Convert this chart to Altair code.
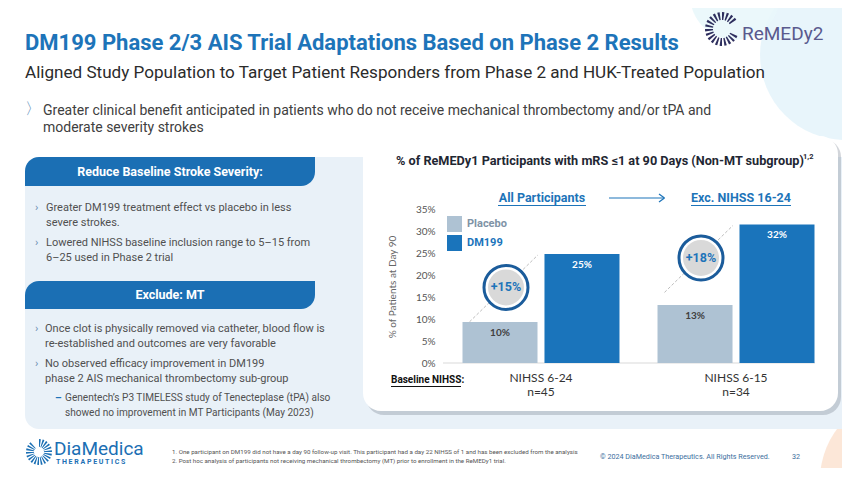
import altair as alt
import pandas as pd

# ---------------- data ----------------
groups = ["NIHSS 6-24", "NIHSS 6-15"]
group_n = ["n=45", "n=34"]
series = ["Placebo", "DM199"]
placebo_vals = [9.3, 13.2]
dm199_vals = [24.8, 31.5]
placebo_labels = ["10%", "13%"]
dm199_labels = ["25%", "32%"]
diff_labels = ["+15%", "+18%"]
y_ticks = [0, 5, 10, 15, 20, 25, 30, 35]
series_colors = ["#AEC2D3", "#1A74BB"]

# ---------------- layout constants ----------------
OX, OY = 443, 209          # page position of the plot origin
W, H = 391, 154            # plot area
BLUE = "#1D74B9"
HEAD = "#1B6FB4"
FONT = "Roboto"
LFONT = "Lato"

one = pd.DataFrame({"a": [0]})


def X(px):
    return alt.value(px - OX)


def Y(py):
    return alt.value(py - OY)


def txt(s, px, py, size, color, weight="normal", align="left", baseline="middle", font=FONT, angle=None):
    kw = dict(text=s, align=align, baseline=baseline, fontSize=size, color=color,
              fontWeight=weight, font=font)
    if angle is not None:
        kw["angle"] = angle
    return alt.Chart(one).mark_text(**kw).encode(x=X(px), y=Y(py))


def rect(x1, y1, x2, y2, fill, **kw):
    return alt.Chart(one).mark_rect(fill=fill, **kw).encode(x=X(x1), x2=X(x2), y=Y(y1), y2=Y(y2))


def rule(x1, y1, x2, y2, color, width=1.0, **kw):
    return alt.Chart(one).mark_rule(color=color, strokeWidth=width, **kw).encode(
        x=X(x1), x2=X(x2), y=Y(y1), y2=Y(y2))


def blob(px, py, r, fill, opacity=1.0):
    return alt.Chart(one).mark_point(filled=True, shape="circle", size=(2 * r) ** 2,
                                     fill=fill, opacity=opacity, strokeWidth=0).encode(x=X(px), y=Y(py))


def burst(px, py, r_in, r_out, color, n, gap=None):
    rows = []
    for i in range(n):
        on = (i % 2 == 0) and not (gap is not None and gap[0] <= i < gap[1])
        rows.append({"v": 1, "on": 1 if on else 0})
    df = pd.DataFrame(rows)
    return alt.Chart(df).mark_arc(innerRadius=r_in, outerRadius=r_out, strokeWidth=0).encode(
        theta=alt.Theta("v:Q", stack=True),
        fill=alt.condition("datum.on == 1", alt.value(color), alt.value("rgba(0,0,0,0)")),
        x=X(px), y=Y(py))


layers = []

# ---------------- background decoration ----------------
layers += [
    blob(845, 55, 85, "#E2F3FA", 0.8),
    blob(735, -5, 45, "#E9F7FB", 0.9),
    blob(905, 480, 85, "#FCE4D4", 0.9),
]

# ---------------- slide header ----------------
layers += [
    txt("DM199 Phase 2/3 AIS Trial Adaptations Based on Phase 2 Results", 25, 49.5, 22, BLUE, "bold", baseline="alphabetic"),
    txt("Aligned Study Population to Target Patient Responders from Phase 2 and HUK-Treated Population", 25, 77.5, 17.1, "#2B2B2B", baseline="alphabetic"),
    txt("〉", 25, 109, 16, "#5B8DB8"),
    txt("Greater clinical benefit anticipated in patients who do not receive mechanical thrombectomy and/or tPA and", 43, 115, 14, "#404040", baseline="alphabetic"),
    txt("moderate severity strokes", 43, 131.5, 14, "#404040", baseline="alphabetic"),
    burst(722, 29, 9, 17, "#2E2F5E", 44, gap=(8, 14)),
    txt("ReMEDy2", 742, 39.5, 19, "#5A5A8E", baseline="alphabetic"),
]

# ---------------- left panel ----------------
layers += [
    rect(25, 157, 860, 429, "#E9F1F8", cornerRadius=14),
    rect(25, 157, 315, 186, HEAD, cornerRadiusTopLeft=14, cornerRadiusBottomRight=14),
    txt("Reduce Baseline Stroke Severity:", 170, 171.5, 12.5, "white", "bold", align="center"),
    txt("›", 35, 208, 11, "#6A8DB0"),
    txt("Greater DM199 treatment effect vs placebo in less", 46, 208, 11, "#505050"),
    txt("severe strokes.", 46, 223, 11, "#505050"),
    txt("›", 35, 243, 11, "#6A8DB0"),
    txt("Lowered NIHSS baseline inclusion range to 5–15 from", 46, 243, 11, "#505050"),
    txt("6–25 used in Phase 2 trial", 46, 258, 11, "#505050"),
    rect(25, 281, 315, 309, HEAD, cornerRadiusTopLeft=14, cornerRadiusBottomRight=14),
    txt("Exclude: MT", 170, 295, 12.5, "white", "bold", align="center"),
    txt("›", 35, 329, 11, "#6A8DB0"),
    txt("Once clot is physically removed via catheter, blood flow is", 45, 329, 11, "#505050"),
    txt("re-established and outcomes are very favorable", 45, 344, 11, "#505050"),
    txt("›", 35, 364, 11, "#6A8DB0"),
    txt("No observed efficacy improvement in DM199", 45, 364, 11, "#505050"),
    txt("phase 2 AIS mechanical thrombectomy sub-group", 45, 379, 11, "#505050"),
    txt("–", 55, 398, 10.5, BLUE, "bold"),
    txt("Genentech’s P3 TIMELESS study of Tenecteplase (tPA) also", 65, 398, 10.1, "#505050"),
    txt("showed no improvement in MT Participants (May 2023)", 65, 413, 10.1, "#505050"),
]

# ---------------- chart card ----------------
layers += [
    rect(366, 139, 841, 415, "#7D8894", cornerRadius=18, opacity=0.35),
    rect(363, 136, 838, 411, "white", cornerRadius=18),
    txt("% of ReMEDy1 Participants with mRS ≤1 at 90 Days (Non-MT subgroup)", 396, 165, 12.7, "#1F2733", "bold", baseline="alphabetic"),
    txt("1,2", 803, 159, 7.5, "#1F2733", "bold", baseline="alphabetic"),
    txt("All Participants", 542, 198, 12.5, BLUE, "bold", align="center"),
    rule(498, 205.5, 586, 205.5, BLUE, 1),
    rule(609, 198, 664, 198, BLUE, 1.2),
    rule(659, 194, 664.5, 198, BLUE, 1.2),
    rule(659, 202, 664.5, 198, BLUE, 1.2),
    txt("Exc. NIHSS 16-24", 741, 198, 12.5, BLUE, "bold", align="center"),
    rule(691, 205.5, 791, 205.5, BLUE, 1),
    txt("% of Patients at Day 90", 393, 287, 10, "#666666", font=LFONT, align="center", angle=270),
    rule(443, 363, 815, 363, "#D9D9D9", 1),
    txt("Baseline NIHSS:", 391, 380, 10, "#111111", "bold"),
    rule(391, 386.5, 461, 386.5, "#111111", 1),
]

# ---------------- bars ----------------
bars_df = pd.DataFrame({
    "group": groups * 2,
    "series": [series[0]] * 2 + [series[1]] * 2,
    "value": placebo_vals + dm199_vals,
    "label": placebo_labels + dm199_labels,
})
groups_df = pd.DataFrame({"group": groups, "label": [g + "\n" + n for g, n in zip(groups, group_n)]})
ann_df = pd.DataFrame({"group": groups, "value": dm199_vals, "label": diff_labels})

Xenc = alt.X("group:N", sort=groups,
             scale=alt.Scale(domain=groups, paddingInner=0.195, paddingOuter=0.1), axis=None)
Yenc = alt.Y("value:Q", scale=alt.Scale(domain=[0, 35], nice=False),
             axis=alt.Axis(values=y_ticks, labelExpr="datum.value + '%'", domain=False, ticks=False,
                           grid=False, labelPadding=8, labelFontSize=10, labelColor="#555555",
                           labelFont=LFONT, title=None, zindex=1))
XOff = alt.XOffset("series:N", sort=series,
                   scale=alt.Scale(domain=series, paddingInner=0.085, paddingOuter=0))

bars = alt.Chart(bars_df).mark_bar().encode(
    x=Xenc, xOffset=XOff, y=Yenc,
    color=alt.Color("series:N", scale=alt.Scale(domain=series, range=series_colors), legend=None),
)
bar_text = alt.Chart(bars_df).mark_text(dy=11, fontSize=10, fontWeight="bold", font=LFONT).encode(
    x=Xenc, xOffset=XOff, y=Yenc, text="label:N",
    color=alt.condition(f"datum.series === '{series[1]}'", alt.value("white"), alt.value("#404040")),
)
x_labels = alt.Chart(groups_df).mark_text(baseline="top", lineBreak="\n", lineHeight=14,
                                          fontSize=12, font=LFONT, color="#333333").encode(
    x=Xenc, y=Y(373), text="label:N")

dash = alt.Chart(ann_df).mark_rule(color="#BDBDBD", strokeWidth=1, strokeDash=[3, 2],
                                   xOffset=-71.5, x2Offset=-3, yOffset=68, y2Offset=1).encode(
    x=Xenc, x2=alt.X2("group"), y=Yenc, y2=alt.Y2("value"))
ring = alt.Chart(ann_df).mark_point(shape="circle", filled=True, size=44 ** 2, fill="white",
                                    stroke="#1B5C9B", strokeWidth=3, opacity=1,
                                    xOffset=-35, yOffset=33.5).encode(x=Xenc, y=Yenc)
disc = alt.Chart(ann_df).mark_point(shape="circle", filled=True, size=36 ** 2, fill="#D9D9D9",
                                    strokeWidth=0, opacity=1,
                                    xOffset=-35, yOffset=33.5).encode(x=Xenc, y=Yenc)
diff = alt.Chart(ann_df).mark_text(fontSize=12.5, fontWeight="bold", color=BLUE, font=FONT,
                                   xOffset=-35, yOffset=33.5).encode(x=Xenc, y=Yenc, text="label:N")

layers += [bars, bar_text, x_labels, dash, ring, disc, diff]

# ---------------- legend (drawn) ----------------
layers += [
    rect(447, 216, 462, 232, series_colors[0]),
    txt(series[0], 467, 224, 11, "#7F93A6", "bold"),
    rect(447, 235, 462, 251, series_colors[1]),
    txt(series[1], 467, 243, 11, series_colors[1], "bold"),
]

# ---------------- footer ----------------
layers += [
    burst(39, 452, 5, 13, HEAD, 40),
    txt("DiaMedica", 54, 454.5, 19, HEAD, baseline="alphabetic"),
    txt("T H E R A P E U T I C S", 56, 464, 7, HEAD, "bold", baseline="alphabetic"),
    txt("1. One participant on DM199 did not have a day 90 follow-up visit. This participant had a day 22 NIHSS of 1 and has been excluded from the analysis",
        172, 452, 6.2, "#555555"),
    txt("2. Post hoc analysis of participants not receiving mechanical thrombectomy (MT) prior to enrollment in the ReMEDy1 trial.",
        172, 461, 6.2, "#555555"),
    txt("© 2024 DiaMedica Therapeutics. All Rights Reserved.", 600, 457, 7.2, "#3D6F9E"),
    txt("32", 792, 457, 7.2, "#3D6F9E"),
]

chart = alt.layer(*layers).properties(
    width=W, height=H,
    autosize=alt.AutoSizeParams(type="none"),
    padding={"left": OX - 8, "top": OY - 8, "right": 834 - (OX - 8) - W, "bottom": 460 - (OY - 8) - H},
    background="white",
).configure_view(stroke=None)

chart.save("out.html", embed_options={"renderer": "svg", "actions": False})
